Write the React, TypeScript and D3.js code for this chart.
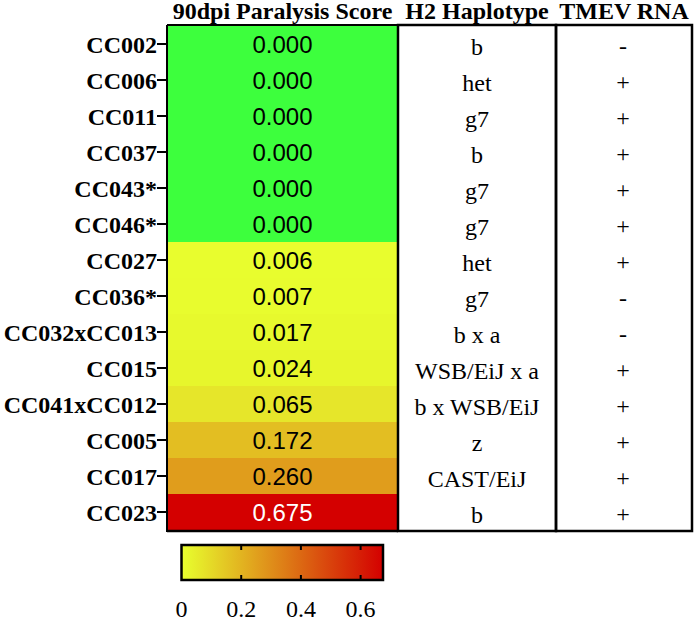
import React from "react";
import * as d3 from "d3";

const strains = ["CC002","CC006","CC011","CC037","CC043*","CC046*","CC027","CC036*","CC032xCC013","CC015","CC041xCC012","CC005","CC017","CC023"];
const scores = [0,0,0,0,0,0,0.006,0.007,0.017,0.024,0.065,0.172,0.260,0.675];
const scoreLabels = ["0.000","0.000","0.000","0.000","0.000","0.000","0.006","0.007","0.017","0.024","0.065","0.172","0.260","0.675"];
const haplotypes = ["b","het","g7","b","g7","g7","het","g7","b x a","WSB/EiJ x a","b x WSB/EiJ","z","CAST/EiJ","b"];
const tmev = ["-","+","+","+","+","+","+","-","-","+","+","+","+","+"];
const colorbarTicks = [0, 0.2, 0.4, 0.6];
const headers = ["90dpi Paralysis Score", "H2 Haplotype", "TMEV RNA"];

const W = 694, H = 619;
const serif = "'Liberation Serif', 'Times New Roman', serif";
const sans = "'Liberation Sans', Arial, sans-serif";

export default function App() {
  const x0 = 167, x1 = 398, x2 = 556, x3 = 692;
  const top = 26, bottom = 530;
  const y = d3.scaleBand<string>().domain(strains).range([top, bottom]);
  const maxV = 0.675;
  const color = d3.scaleLinear<string>().domain([0, maxV]).range(["#e8ff2e", "#d40000"]).interpolate(d3.interpolateRgb);
  const zeroColor = "#3dff3d";
  const cb = d3.scaleLinear().domain([0, maxV]).range([181.5, 383]);
  const cbTop = 545, cbBot = 580;

  return (
    <svg width={W} height={H} style={{ position: "absolute", left: 0, top: 0, background: "#fff" }}>
      <defs>
        <linearGradient id="cbg" x1="0" x2="1" y1="0" y2="0">
          {d3.range(0, 1.0001, 0.1).map((t) => (
            <stop key={t} offset={t} stopColor={color(t * maxV)} />
          ))}
        </linearGradient>
      </defs>
      {/* headers */}
      <text x={(x0 + x1) / 2} y={19} textAnchor="middle" fontFamily={serif} fontWeight="bold" fontSize={24}>{headers[0]}</text>
      <text x={(x1 + x2) / 2} y={19} textAnchor="middle" fontFamily={serif} fontWeight="bold" fontSize={24}>{headers[1]}</text>
      <text x={(x2 + x3) / 2} y={19} textAnchor="middle" fontFamily={serif} fontWeight="bold" fontSize={24}>{headers[2]}</text>

      {/* heatmap cells */}
      {strains.map((s, i) => (
        <rect key={s} x={x0} y={y(s)!} width={x1 - x0} height={y.bandwidth() + 0.5}
          fill={scores[i] === 0 ? zeroColor : color(scores[i])} />
      ))}
      {strains.map((s, i) => (
        <text key={"v" + s} x={(x0 + x1) / 2} y={y(s)! + y.bandwidth() / 2 + 9} textAnchor="middle"
          fontFamily={sans} fontSize={24} fill={scores[i] > 0.5 ? "#fff" : "#000"}>{scoreLabels[i]}</text>
      ))}
      {/* row labels */}
      {strains.map((s) => (
        <g key={"l" + s}>
          <line x1={157} x2={167} y1={y(s)! + y.bandwidth() / 2} y2={y(s)! + y.bandwidth() / 2} stroke="#000" strokeWidth={2} />
          <text x={157} y={y(s)! + y.bandwidth() / 2 + 9} textAnchor="end" fontFamily={serif} fontWeight="bold" fontSize={24}>{s}</text>
        </g>
      ))}
      {/* haplotype and tmev */}
      {strains.map((s, i) => (
        <g key={"h" + s}>
          <text x={(x1 + x2) / 2} y={y(s)! + y.bandwidth() / 2 + 11} textAnchor="middle" fontFamily={serif} fontSize={24}>{haplotypes[i]}</text>
          <text x={(x2 + x3) / 2 - 1} y={y(s)! + y.bandwidth() / 2 + 10} textAnchor="middle" fontFamily={serif} fontSize={24}>{tmev[i]}</text>
        </g>
      ))}
      {/* borders */}
      <line x1={x0} x2={x0} y1={top - 1} y2={bottom + 2} stroke="#000" strokeWidth={2} />
      <line x1={x0} x2={x1} y1={top - 1} y2={top - 1} stroke="#000" strokeWidth={2} />
      <rect x={x1} y={top - 1} width={x2 - x1} height={bottom - top + 2} fill="none" stroke="#000" strokeWidth={2.5} />
      <rect x={x2} y={top - 1} width={x3 - x2} height={bottom - top + 2} fill="none" stroke="#000" strokeWidth={2.5} />
      <line x1={x0} x2={x1} y1={bottom + 1} y2={bottom + 1} stroke="#000" strokeWidth={2.5} />

      {/* colorbar */}
      <rect x={cb(0)} y={cbTop} width={cb(maxV) - cb(0)} height={cbBot - cbTop} fill="url(#cbg)" stroke="#000" strokeWidth={2.5} />
      {colorbarTicks.map((t) => (
        <g key={"t" + t}>
          {t > 0 && <line x1={cb(t)} x2={cb(t)} y1={cbTop} y2={cbTop + 5} stroke="#000" strokeWidth={2} />}
          {t > 0 && <line x1={cb(t)} x2={cb(t)} y1={cbBot - 5} y2={cbBot} stroke="#000" strokeWidth={2} />}
          <text x={cb(t)} y={617} textAnchor="middle" fontFamily={serif} fontSize={24}>{String(t)}</text>
        </g>
      ))}
    </svg>
  );
}
